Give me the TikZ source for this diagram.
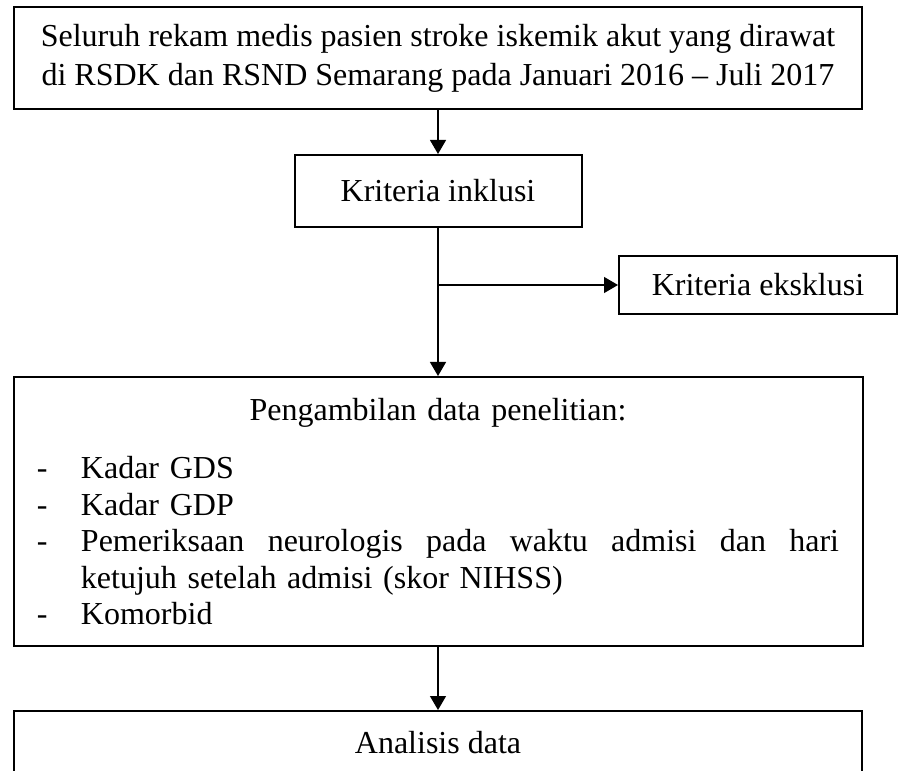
\documentclass[tikz,border=0pt]{standalone}
\usepackage{fontspec}
\setmainfont{Liberation Serif}
\usepackage{tikz}
\usetikzlibrary{arrows.meta}

\begin{document}
\begin{tikzpicture}[x=0.4pt,y=-0.4pt,>={Triangle[length=5.6pt,width=6.4pt]},font=\fontsize{12.8pt}{15.6pt}\selectfont]
    \tikzstyle{box}=[draw=black,line width=0.8pt,rectangle,inner sep=0pt]
    \tikzstyle{flow}=[->,line width=0.5pt]
    \def\ind{17.6pt}

    \useasboundingbox (0,0) rectangle (898,771);

    % Draw the boxes from top to bottom
    \node[box,minimum width=848*0.4pt,minimum height=102*0.4pt,align=center] (S) at (438,58)
        {Seluruh rekam medis pasien stroke iskemik akut yang dirawat\\
         di RSDK dan RSND Semarang pada Januari 2016 -- Juli 2017};
    \node[box,minimum width=287*0.4pt,minimum height=72*0.4pt] (inc) at (438,191) {Kriteria inklusi};
    \node[box,minimum width=278*0.4pt,minimum height=58*0.4pt] (exc) at (758,285) {Kriteria eksklusi};
    \node[box,minimum width=849*0.4pt,minimum height=269*0.4pt,text width=320.8pt,
          font=\fontsize{12.8pt}{14.6pt}\selectfont] (D) at (438,511.5)
        {\parindent=0pt
         {\centering Pengambilan data penelitian:\par}
         \vspace{8.8pt}
         \hangindent=\ind\hangafter=1\makebox[\ind][l]{-}Kadar GDS\par
         \hangindent=\ind\hangafter=1\makebox[\ind][l]{-}Kadar GDP\par
         \hbox to 320.8pt{\hbox to \ind{-\hss}Pemeriksaan\hfill neurologis\hfill pada\hfill waktu\hfill admisi\hfill dan\hfill hari}
         \hangindent=\ind\hangafter=0 ketujuh setelah admisi (skor NIHSS)\par
         \hangindent=\ind\hangafter=1\makebox[\ind][l]{-}Komorbid\par};
    \node[box,minimum width=848*0.4pt,minimum height=64*0.4pt] (A) at (438,743) {Analisis data};

    % Connect the boxes
    \coordinate (br) at (inc.south |- exc.west);
    \draw[flow] (S.south) -- (inc.north);
    \draw[flow] (inc.south) -- (D.north);
    \draw[flow] (br) -- (exc.west);
    \draw[flow] (D.south) -- (A.north);

\end{tikzpicture}
\end{document}
